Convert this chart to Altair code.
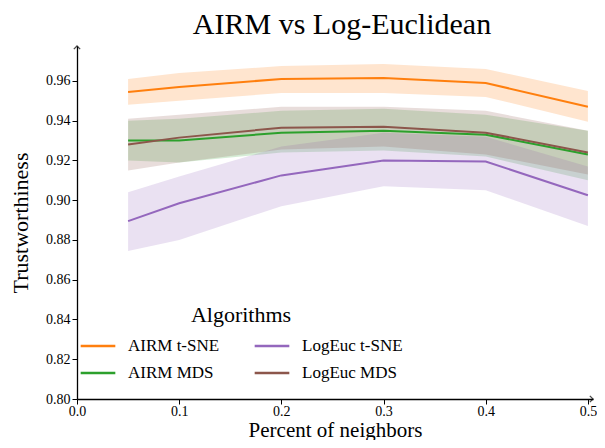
import altair as alt
import pandas as pd

x_vals = [0.05, 0.1, 0.2, 0.3, 0.4, 0.5]
series = ["AIRM t-SNE", "AIRM MDS", "LogEuc t-SNE", "LogEuc MDS"]
colors = ["#ff7f0e", "#2ca02c", "#9467bd", "#8c564b"]

airm_tsne_mean = [0.9545, 0.957, 0.961, 0.9615, 0.959, 0.947]
airm_tsne_lo = [0.948, 0.950, 0.954, 0.954, 0.952, 0.9395]
airm_tsne_hi = [0.961, 0.964, 0.9675, 0.9685, 0.966, 0.955]

airm_mds_mean = [0.930, 0.930, 0.934, 0.935, 0.933, 0.923]
airm_mds_lo = [0.920, 0.919, 0.924, 0.925, 0.922, 0.910]
airm_mds_hi = [0.940, 0.941, 0.945, 0.946, 0.943, 0.935]

logeuc_mds_mean = [0.928, 0.9315, 0.9365, 0.937, 0.934, 0.924]
logeuc_mds_lo = [0.915, 0.919, 0.9255, 0.927, 0.923, 0.913]
logeuc_mds_hi = [0.941, 0.943, 0.947, 0.947, 0.945, 0.935]

logeuc_tsne_mean = [0.8895, 0.8985, 0.9125, 0.920, 0.9195, 0.9025]
logeuc_tsne_lo = [0.8745, 0.880, 0.897, 0.907, 0.905, 0.887]
logeuc_tsne_hi = [0.904, 0.912, 0.927, 0.934, 0.932, 0.917]

y_ticks = [0.80, 0.82, 0.84, 0.86, 0.88, 0.90, 0.92, 0.94, 0.96]
x_ticks = [0.0, 0.1, 0.2, 0.3, 0.4, 0.5]

rows = []
for name, m, lo, hi in [
    ("AIRM t-SNE", airm_tsne_mean, airm_tsne_lo, airm_tsne_hi),
    ("AIRM MDS", airm_mds_mean, airm_mds_lo, airm_mds_hi),
    ("LogEuc t-SNE", logeuc_tsne_mean, logeuc_tsne_lo, logeuc_tsne_hi),
    ("LogEuc MDS", logeuc_mds_mean, logeuc_mds_lo, logeuc_mds_hi),
]:
    for xv, a, b, c in zip(x_vals, m, lo, hi):
        rows.append({"x": xv, "mean": a, "lo": b, "hi": c, "alg": name})
df = pd.DataFrame(rows)

FONT = "Liberation Serif"
W, H = 516, 353
xscale = alt.Scale(domain=[0, 0.505], nice=False, zero=False)
yscale = alt.Scale(domain=[0.80, 0.9776], nice=False, zero=False)
cscale = alt.Scale(domain=series, range=colors)

xaxis = alt.Axis(values=x_ticks, format=".1f", title="Percent of neighbors",
                 grid=False, tickSize=5, labelFontSize=14, titleFontSize=21,
                 titleFontWeight="normal", labelFont=FONT, titleFont=FONT,
                 domainColor="black", tickColor="black", labelColor="black",
                 titleColor="black", titlePadding=1, labelPadding=0,
                 domainWidth=1.3, labelFlush=False)
yaxis = alt.Axis(values=y_ticks, format=".2f", title="Trustworthiness",
                 grid=False, tickSize=5, labelFontSize=14, titleFontSize=22,
                 titleFontWeight="normal", labelFont=FONT, titleFont=FONT,
                 domainColor="black", tickColor="black", labelColor="black",
                 titleColor="black", titlePadding=13, domainWidth=1.3)

legend = alt.Legend(
    title="Algorithms", orient="none", legendX=2, legendY=259,
    columns=2, columnPadding=29, rowPadding=0,
    symbolType="stroke", symbolSize=1200, symbolStrokeWidth=2.5, symbolOpacity=1,
    labelFont=FONT, labelFontSize=17, labelColor="black",
    titleFont=FONT, titleFontSize=22, titleFontWeight="normal",
    titleColor="black", titleAnchor="middle", titleAlign="center",
    titlePadding=0, labelOffset=11, direction="vertical")

base = alt.Chart(df)
bands = base.mark_area(opacity=0.2).encode(
    x=alt.X("x:Q", scale=xscale, axis=xaxis),
    y=alt.Y("lo:Q", scale=yscale, axis=yaxis),
    y2="hi:Q",
    color=alt.Color("alg:N", scale=cscale, sort=series, legend=legend),
    detail="alg:N",
)
lines = base.mark_line(strokeWidth=2).encode(
    x=alt.X("x:Q", scale=xscale),
    y=alt.Y("mean:Q", scale=yscale),
    color=alt.Color("alg:N", scale=cscale, sort=series, legend=legend),
)

arrow_path = "M-1,1 L0,0 L1,1"
y_arrow = alt.Chart(pd.DataFrame({"a": [0]})).mark_point(
    shape=arrow_path, filled=False, stroke="black", strokeWidth=1.3, size=40
).encode(x=alt.value(0), y=alt.value(0))
x_arrow = alt.Chart(pd.DataFrame({"a": [0]})).mark_point(
    shape=arrow_path, filled=False, stroke="black", strokeWidth=1.3, size=40, angle=90
).encode(x=alt.value(W), y=alt.value(H))

chart = alt.layer(bands, lines, y_arrow, x_arrow).properties(
    width=W, height=H,
    title=alt.Title("AIRM vs Log-Euclidean", font=FONT, fontSize=30,
                    fontWeight="normal", color="black", anchor="middle", offset=3, dx=7),
    autosize=alt.AutoSizeParams(type="none"),
    padding={"left": 69, "top": 38, "right": 4, "bottom": 41},
).configure_view(stroke=None).configure_axis(domainCap="butt")

chart.save("out.html", embed_options={"renderer": "svg", "actions": False})
